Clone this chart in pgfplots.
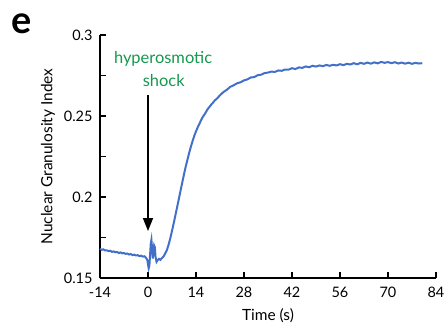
\documentclass[border=0pt]{standalone}
\usepackage{fontspec}
\setmainfont{Lato}
\usepackage{pgfplots}
\pgfplotsset{compat=1.18}
\usetikzlibrary{arrows.meta}
\definecolor{curve}{RGB}{66,112,200}
\definecolor{shockgreen}{RGB}{22,152,78}
\begin{document}
\begin{tikzpicture}
\useasboundingbox (-100bp,-45bp) rectangle (347bp,278bp);
\node[anchor=center,font=\fontsize{38}{38}\selectfont\bfseries] at (-78bp,254bp) {e};
\begin{axis}[
  at={(0,0)}, anchor=south west,
  scale only axis, width=336bp, height=243bp,
  xmin=-14, xmax=84, ymin=0.15, ymax=0.3,
  axis lines*=left, axis line style={-, line width=1.3pt},
  xtick={-14,0,14,28,42,56,70,84},
  ytick={0.15,0.175,0.2,0.225,0.25,0.275,0.3},
  yticklabels={0.15,,0.2,,0.25,,0.3},
  tick align=inside, major tick length=6bp,
  tick style={line width=1.3pt, black},
  /pgf/number format/assume math mode=true,
  ticklabel style={font=\fontsize{14.5}{14.5}\selectfont},
  xticklabel style={yshift=-6bp},
  yticklabel style={xshift=-4bp},
  xlabel={Time (s)}, ylabel={Nuclear Granulosity Index},
  label style={font=\fontsize{15.5}{15.5}\selectfont},
  xlabel style={yshift=-4bp},
  ylabel style={yshift=2bp},
  clip=false,
]
\addplot[curve, line width=2pt] coordinates {
(-14,0.1680) (-13.5,0.1674) (-13,0.1677) (-12.5,0.1670) (-12,0.1671) (-11.5,0.1666)
(-11,0.1668) (-10.5,0.1661) (-10,0.1664) (-9.5,0.1659) (-9,0.1661) (-8.5,0.1654)
(-8,0.1658) (-7.5,0.1652) (-7,0.1654) (-6.5,0.1649) (-6,0.1651) (-5.5,0.1645)
(-5,0.1648) (-4.5,0.1641) (-4,0.1644) (-3.5,0.1639) (-3,0.1641) (-2.5,0.1635)
(-2,0.1638) (-1.5,0.1632) (-1,0.1634) (-0.5,0.1622) (-0.2,0.1612) (0,0.1585)
(0.2,0.1560) (0.4,0.1575) (0.6,0.1640) (0.8,0.1710) (1.0,0.1735) (1.2,0.1680)
(1.4,0.1620) (1.6,0.1660) (1.8,0.1700) (2.0,0.1690) (2.2,0.1630) (2.5,0.1600)
(2.8,0.1610) (3.2,0.1618) (3.6,0.1612) (4.0,0.1622) (4.5,0.1632) (5.0,0.1650)
(5.5,0.1672) (6.0,0.1705) (6.5,0.1745) (7.0,0.1790) (7.5,0.1838) (8.0,0.1888)
(8.5,0.1938) (9.0,0.1988) (9.5,0.2040) (10.0,0.2090) (10.5,0.2140) (11.0,0.2188)
(11.5,0.2230) (12.0,0.2272) (12.5,0.2310) (13.0,0.2345) (13.5,0.2378) (14.0,0.2405)
(14.5,0.2430) (15.0,0.2452) (15.5,0.2475) (16,0.2495) (16.5,0.2510) (17,0.2528)
(17.5,0.2545) (18,0.2558) (18.5,0.2572) (19,0.2583) (19.5,0.2597) (20,0.2605)
(21,0.2628) (22,0.2648) (23,0.2662) (24,0.2680) (25,0.2690) (26,0.2702)
(27,0.2708) (28,0.2720) (29,0.2726) (30,0.2738) (31,0.2740) (32,0.2752)
(33,0.2755) (34,0.2765) (35,0.2768) (36,0.2774) (37,0.2772) (38,0.2781)
(39,0.2779) (40,0.2787) (41,0.2786) (42,0.2795) (43,0.2790) (44,0.2800)
(45,0.2797) (46,0.2806) (47,0.2801) (48,0.2810) (49,0.2805) (50,0.2812)
(51,0.2808) (52,0.2815) (53,0.2810) (54,0.2816) (55,0.2812) (56,0.2820)
(57,0.2814) (58,0.2822) (59,0.2818) (60,0.2826) (61,0.2819) (62,0.2828)
(63,0.2822) (64,0.2830) (65,0.2823) (66,0.2831) (67,0.2825) (68,0.2834)
(69,0.2828) (70,0.2833) (71,0.2826) (72,0.2832) (73,0.2824) (74,0.2830)
(75,0.2823) (76,0.2829) (77,0.2822) (78,0.2828) (79,0.2824) (80,0.2826)
};
\draw[line width=1.6pt, -{Triangle[width=10bp,length=13bp]}] (axis cs:0,0.2630) -- (axis cs:0,0.1790);
\node[shockgreen, font=\fontsize{16.5}{16.5}\selectfont] at (axis cs:4.4,0.2853) {hyperosmotic};
\node[shockgreen, font=\fontsize{16.5}{16.5}\selectfont] at (axis cs:4.6,0.2722) {shock};
\end{axis}
\end{tikzpicture}
\end{document}
